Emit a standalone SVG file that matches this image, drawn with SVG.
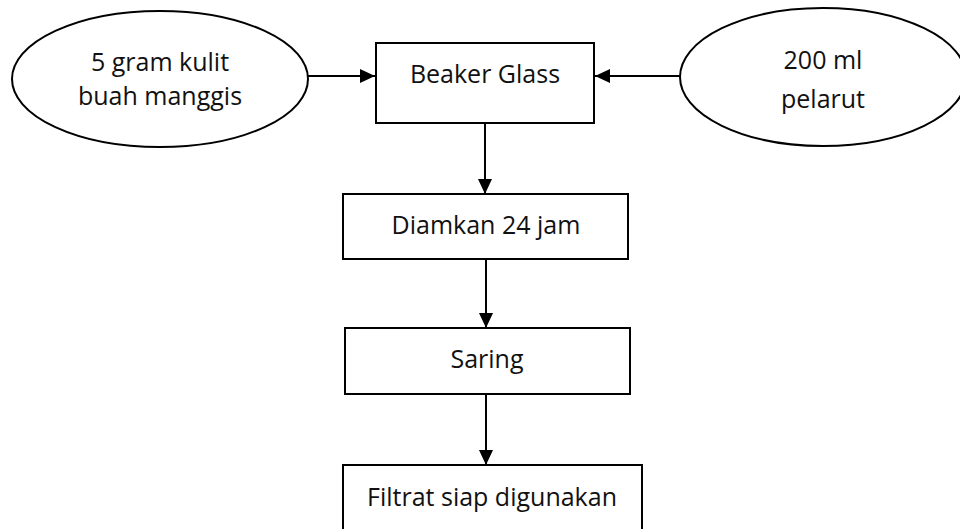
<svg xmlns="http://www.w3.org/2000/svg" width="960" height="529" viewBox="0 0 960 529">
  <style>
    .shape { fill: #ffffff; stroke: #000000; stroke-width: 2; }
    .lbl { font-family: "Open Sans", "Liberation Sans", sans-serif; font-size: 25px; fill: #111111; text-anchor: middle; }
    .edge { stroke: #000000; stroke-width: 2; fill: none; marker-end: url(#arrow); }
  </style>
  <defs>
    <marker id="arrow" viewBox="0 0 15 14" refX="15" refY="7" markerWidth="15" markerHeight="14" markerUnits="userSpaceOnUse" orient="auto">
      <path d="M0,0 L15,7 L0,14 Z" fill="#000000"/>
    </marker>
  </defs>
  <rect width="960" height="529" fill="#ffffff"/>

  <g id="connectors">
    <line class="edge" x1="308" y1="76" x2="375" y2="76"/>
    <line class="edge" x1="680" y1="76" x2="595" y2="76"/>
    <line class="edge" x1="485" y1="123" x2="485" y2="194"/>
    <line class="edge" x1="486" y1="259" x2="486" y2="328"/>
    <line class="edge" x1="486" y1="394" x2="486" y2="465"/>
  </g>

  <g id="kulit">
    <ellipse class="shape" cx="160" cy="79" rx="148" ry="68"/>
    <text class="lbl" x="160" y="71">5 gram kulit</text>
    <text class="lbl" x="160" y="105">buah manggis</text>
  </g>

  <g id="pelarut">
    <ellipse class="shape" cx="823" cy="77" rx="143" ry="69"/>
    <text class="lbl" x="823" y="69">200 ml</text>
    <text class="lbl" x="823" y="108">pelarut</text>
  </g>

  <g id="beaker">
    <rect class="shape" x="376" y="43" width="218" height="80"/>
    <text class="lbl" x="485" y="83">Beaker Glass</text>
  </g>

  <g id="diamkan">
    <rect class="shape" x="343" y="194" width="285" height="65"/>
    <text class="lbl" x="486" y="234">Diamkan 24 jam</text>
  </g>

  <g id="saring">
    <rect class="shape" x="345" y="328" width="285" height="66"/>
    <text class="lbl" x="487" y="368">Saring</text>
  </g>

  <g id="filtrat">
    <rect class="shape" x="343" y="465" width="299" height="70"/>
    <text class="lbl" x="492" y="506">Filtrat siap digunakan</text>
  </g>
</svg>
